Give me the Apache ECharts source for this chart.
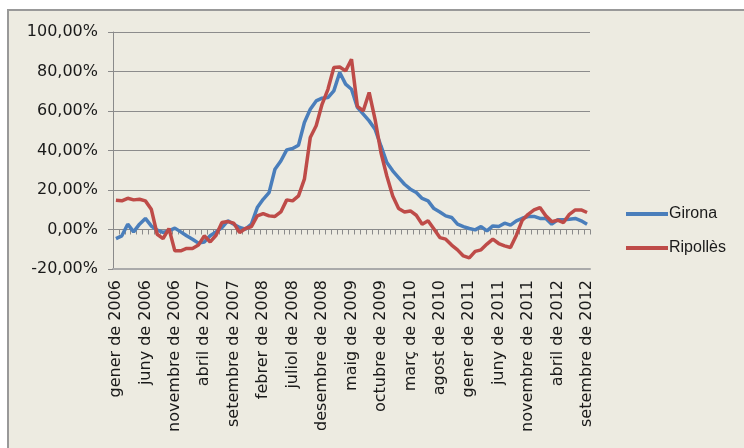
<!DOCTYPE html>
<html>
<head>
<meta charset="utf-8">
<script src="https://cdn.jsdelivr.net/npm/echarts@6/dist/echarts.min.js"></script>
<style>
  html, body { margin: 0; padding: 0; background: #fff; }
  #chart { width: 744px; height: 448px; }
</style>
</head>
<body>
<div id="chart"></div>
<script>
// month names (Catalan) and years covered: gener 2006 .. setembre 2012
const monthNames = ['gener', 'febrer', 'març', 'abril', 'maig', 'juny', 'juliol', 'agost', 'setembre', 'octubre', 'novembre', 'desembre']
const years = [2006, 2007, 2008, 2009, 2010, 2011, 2012]
const lastMonthOf2012 = 9

const yTicks = { min: -20, max: 100, step: 20 }

// year-on-year change, %
const girona = [
  -4.6, -3.2, 2.7, -1.2, 2.7, 5.6, 1.8, -0.3, -1.5, -0.7, 0.7, -1.2,
  -3.2, -4.9, -6.9, -6.3, -3.2, -1.2, 1.0, 4.4, 2.7, 1.0, 0.2, 2.7,
  11.1, 15.3, 18.7, 30.5, 34.7, 40.3, 41.0, 42.7, 54.2, 60.9, 65.1, 66.5,
  66.8, 70.2, 79.5, 73.6, 71.0, 61.8, 58.4, 55.0, 50.8, 42.3, 33.9, 29.7,
  26.3, 22.9, 20.4, 18.7, 15.7, 14.5, 10.6, 8.9, 6.9, 6.1, 2.7, 1.5,
  0.5, -0.2, 1.5, -0.7, 1.8, 1.5, 3.2, 2.2, 4.4, 5.7, 6.6, 6.6,
  5.6, 5.6, 2.7, 4.9, 4.9, 5.2, 5.6, 4.4, 2.7
]
const ripolles = [
  14.8, 14.5, 15.8, 15.0, 15.3, 14.5, 10.3, -2.4, -4.6, 0.5, -10.8, -10.8,
  -9.6, -9.6, -7.9, -3.2, -6.3, -2.9, 3.5, 4.0, 3.2, -1.5, 0.5, 1.5,
  6.9, 8.1, 6.9, 6.6, 8.9, 15.0, 14.5, 17.0, 25.5, 46.6, 52.5, 63.4,
  71.0, 82.0, 82.3, 80.3, 86.2, 62.3, 60.1, 69.4, 55.8, 39.0, 27.1, 17.0,
  10.6, 8.9, 9.4, 7.2, 2.7, 4.4, 0.2, -4.1, -4.9, -7.9, -10.3, -13.4,
  -14.4, -11.1, -10.3, -7.4, -4.9, -7.1, -8.3, -9.1, -2.9, 4.7, 7.7, 9.9,
  11.1, 6.9, 4.0, 4.7, 3.5, 7.7, 9.9, 9.9, 8.6
]

const categories = []
years.forEach(y => {
  const count = y === 2012 ? lastMonthOf2012 : 12
  for (let m = 0; m < count; m++) categories.push(monthNames[m] + ' de ' + y)
})

const axisFont = '"DejaVu Sans", sans-serif'
const legendFont = '"Liberation Sans", Arial, sans-serif'
const chart = echarts.init(document.getElementById('chart'))

chart.setOption({
  animation: false,
  graphic: [
    {
      type: 'rect',
      z: -10,
      shape: { x: 8, y: 10, width: 800, height: 500 },
      style: { fill: '#EDEBE1', stroke: '#999999', lineWidth: 2 },
    },
  ],
  grid: { left: 113, right: 154, top: 32, bottom: 179 },
  legend: {
    orient: 'vertical',
    left: 621,
    top: 201,
    itemGap: 18,
    itemWidth: 42,
    itemHeight: 4,
    icon: 'rect',
    textStyle: { fontFamily: legendFont, fontSize: 16, color: '#1a1a1a', padding: [0, 0, 0, -4] },
    data: ['Girona', 'Ripollès'],
  },
  xAxis: [
    {
      type: 'category',
      data: categories,
      boundaryGap: true,
      axisLine: { onZero: false, show: true, lineStyle: { color: '#aaaaaa', width: 2 } },
      axisTick: { show: false },
      axisLabel: {
        interval: 4,
        rotate: 90,
        margin: 11,
        fontFamily: axisFont,
        fontSize: 16,
        color: '#1a1a1a',
      },
    },
    {
      type: 'category',
      data: categories,
      boundaryGap: true,
      position: 'bottom',
      axisLine: { onZero: true, lineStyle: { color: '#8a8a8a', width: 1 } },
      axisTick: { show: true, interval: 0, length: 5, lineStyle: { color: '#8a8a8a' } },
      axisLabel: { show: false },
    },
  ],
  yAxis: {
    type: 'value',
    min: yTicks.min,
    max: yTicks.max,
    interval: yTicks.step,
    axisLine: { show: true, lineStyle: { color: '#8a8a8a' } },
    axisTick: { show: true, length: 5, lineStyle: { color: '#8a8a8a' } },
    splitLine: { lineStyle: { color: '#8c8c8c', width: 1 } },
    axisLabel: {
      margin: 15,
      fontFamily: axisFont,
      fontSize: 16,
      color: '#1a1a1a',
      formatter: v => v.toFixed(2).replace('.', ',') + '%',
    },
  },
  series: [
    {
      name: 'Girona',
      type: 'line',
      data: girona,
      symbol: 'none',
      color: '#4A7EBB',
      lineStyle: { width: 3.5, color: '#4A7EBB' },
    },
    {
      name: 'Ripollès',
      type: 'line',
      data: ripolles,
      symbol: 'none',
      color: '#BE4B48',
      lineStyle: { width: 3.5, color: '#BE4B48' },
    },
  ],
})
</script>
</body>
</html>
